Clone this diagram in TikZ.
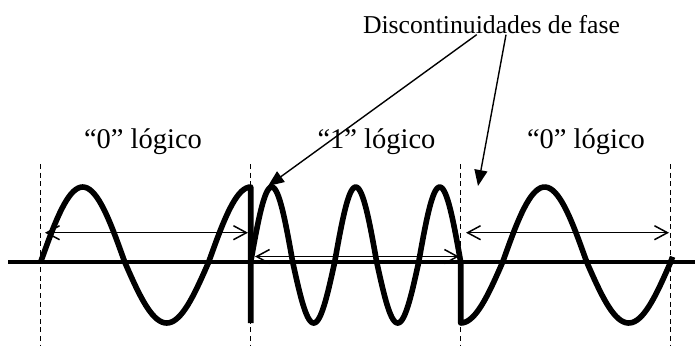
\documentclass[tikz,border=0pt]{standalone}
\usepackage{fontspec}
\setmainfont{Liberation Serif}
\usetikzlibrary{arrows.meta}

\begin{document}
\begin{tikzpicture}[x=0.5bp,y=-0.5bp,
    wave/.style={line width=2.8bp,line join=round},
    marca/.style={dash pattern=on 2.5bp off 1.8bp,line width=0.6bp},
    cota/.style={line width=0.75bp,>={Straight Barb[length=6.5bp,width=7bp]},<->},
    flecha/.style={line width=0.7bp,-{Triangle[length=8bp,width=6.5bp]}},
    etiq/.style={inner sep=0pt,anchor=base,font=\fontsize{14.3}{17}\selectfont}]
  \useasboundingbox (0,0) rectangle (695,345);
  \foreach \x in {40.7,250.7,460.7,670.7}
    \draw[marca] (\x,164) -- (\x,345);
  \draw[line width=2bp] (8,262) -- (695,262);
  \draw[wave] plot[domain=0:450,samples=91] ({40.7+\x/450*210},{262-68*sin(\x)-7*abs(sin(\x))}) -- (250.7,323);
  \draw[wave] plot[domain=0:900,samples=181] ({250.7+\x/900*210},{262-68*sin(\x)-7*abs(sin(\x))})
    -- plot[domain=270:724,samples=91] ({460.7+(\x-270)/450*210},{262-68*sin(\x)-7*abs(sin(\x))});
  \coordinate (c1l) at (45,232.7);
  \coordinate (c1r) at (248,232.7);
  \coordinate (c2l) at (255,256.5);
  \coordinate (c2r) at (459,256.5);
  \coordinate (c3l) at (466,232.7);
  \coordinate (c3r) at (669,232.7);
  \draw[cota] (c1l) -- (c1r);
  \draw[cota] (c2l) -- (c2r);
  \draw[cota] (c3l) -- (c3r);
  \node[etiq] (cero1) at (143,148.5) {“0” lógico};
  \node[etiq] (uno) at (376.5,148.5) {“1” lógico};
  \node[etiq] (cero2) at (586,148.5) {“0” lógico};
  \node[inner sep=0pt,anchor=base,font=\fontsize{12.9}{15}\selectfont] (disc) at (491.5,33) {Discontinuidades de fase};
  \coordinate (salto1) at (268,186);
  \coordinate (salto2) at (478,186);
  \draw[flecha] ([xshift=-7.4bp,yshift=-0.5bp]disc.south) -- (salto1);
  \draw[flecha] ([xshift=7.25bp,yshift=-0.5bp]disc.south) -- (salto2);
\end{tikzpicture}
\end{document}
